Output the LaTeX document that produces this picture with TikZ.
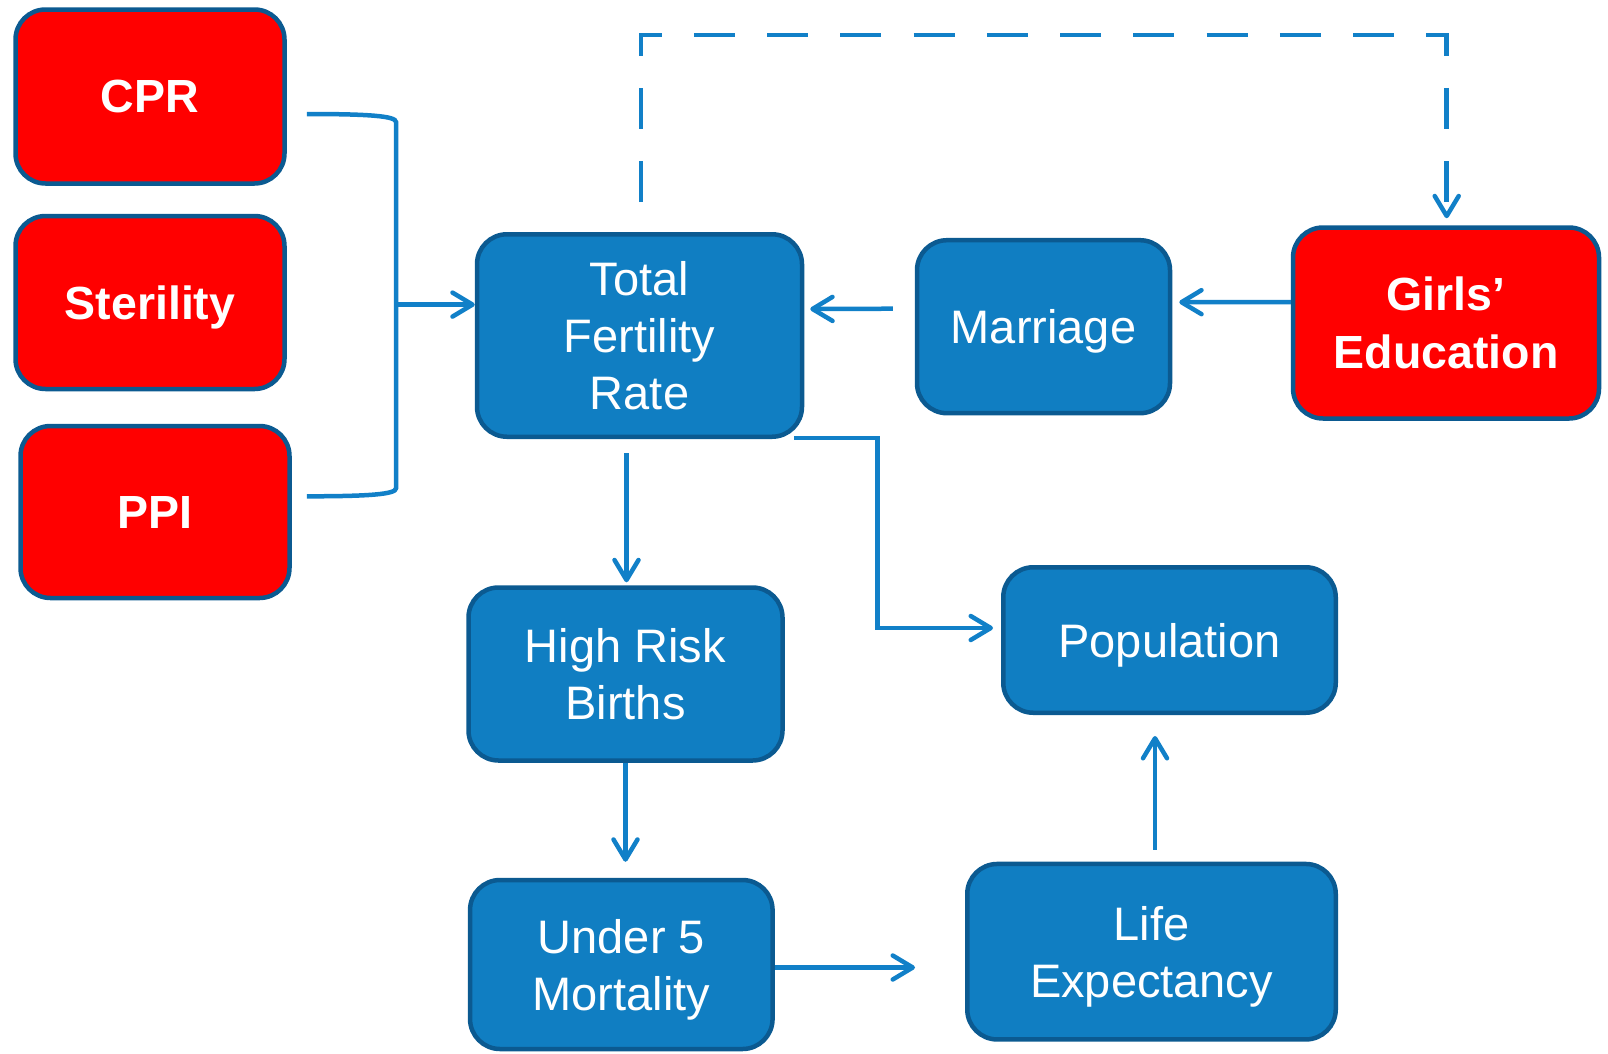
\documentclass[tikz,border=0pt]{standalone}
\usepackage{fontspec}
\setmainfont{Liberation Sans}
\usetikzlibrary{arrows.meta,calc}
\definecolor{boxblue}{RGB}{16,126,194}
\definecolor{edgeblue}{RGB}{11,90,145}
\definecolor{linkblue}{RGB}{17,128,200}
\definecolor{boxred}{RGB}{255,0,0}
\begin{document}
\begin{tikzpicture}[x=1pt,y=-1pt,
  box/.style={draw=edgeblue, line width=4.5pt, rounded corners=30pt, text=white,
    align=center, inner sep=0pt, text depth=0pt, font=\fontsize{47}{57}\selectfont},
  bluebox/.style={box, fill=boxblue},
  redbox/.style={box, fill=boxred, font=\fontsize{46.5}{58}\selectfont\bfseries},
  link/.style={draw=linkblue, line width=4.5pt},
  arr/.style={link, -{Straight Barb[length=20pt,width=24pt,round]}},
]
\useasboundingbox (0,0) rectangle (1608,1053);

% nodes
\node[redbox, minimum width=269pt, minimum height=174pt] (cpr) at (150,96.5) {CPR};
\node[redbox, minimum width=269pt, minimum height=173pt] (ster) at (150,302.5) {Sterility};
\node[redbox, minimum width=269pt, minimum height=172pt] (ppi) at (155,512) {PPI};
\node[bluebox, minimum width=325pt, minimum height=202.5pt] (tfr) at (639.5,335.5) {Total\\Fertility\\Rate};
\node[bluebox, minimum width=253pt, minimum height=173pt] (mar) at (1043.5,326.7) {Marriage};
\node[redbox, minimum width=306pt, minimum height=191pt] (girls) at (1446,323) {Girls’\\Education};
\node[bluebox, minimum width=314pt, minimum height=173pt] (hrb) at (625.5,674) {High Risk\\Births};
\node[bluebox, minimum width=302.5pt, minimum height=169pt] (u5m) at (621.3,964.5) {Under 5\\Mortality};
\node[bluebox, minimum width=368.5pt, minimum height=175.5pt] (le) at (1151.5,951.7) {Life\\Expectancy};
\node[bluebox, minimum width=332.5pt, minimum height=145.5pt] (pop) at (1169.5,640) {Population};

% bracket CPR / PPI -> TFR
\coordinate (bA) at ($(cpr.east)+(20,17.5)$);
\coordinate (bB) at ($(ppi.east)+(15,-15.7)$);
\coordinate (bj) at (396,304.6);
\draw[link] (bA) .. controls +(62,0) and +(0,-6) .. ($(bA -| bj)+(0,8)$)
  -- ($(bB -| bj)+(0,-8)$) .. controls +(0,6) and +(62,0) .. (bB);
\draw[arr] (bj) -- (tfr.west |- bj);

% Marriage -> TFR
\draw[arr] ($(mar.west)+(-22,-18)$) -- ($(tfr.east)+(6,-26.5)$);
% Girls -> Marriage
\draw[arr] ($(girls.west)+(0,-21)$) -- ($(mar.east)+(7,-24.5)$);

% dashed TFR -> Girls
\coordinate (d1) at ($(tfr.north)+(1.5,-8)$);
\coordinate (d2) at ($(girls.north)+(0.7,-7)$);
\coordinate (dy) at (0,35);
\draw[arr, dash pattern=on 41pt off 32.25pt, dash phase=51.25pt] (d1) -- (d1 |- dy) -| (d2);

% TFR -> HRB
\draw[arr] ($(tfr.south)+(-13,14)$) -- ($(hrb.north)+(1,-3)$);
% TFR -> Population
\coordinate (t1) at ($(tfr.south east)+(-10,-1)$);
\coordinate (t2) at ($(pop.west)+(-8,-12)$);
\draw[arr] (t1) -- ($(t1)+(83,0)$) |- (t2);
% HRB -> U5M
\draw[arr] (hrb.south) -- ($(u5m.north -| hrb.south)+(0,-16)$);
% U5M -> LE
\draw[arr] ($(u5m.east)+(0,3)$) -- ($(le.west |- u5m.east)+(-50,3)$);
% LE -> Population
\draw[arr] ($(le.north)+(3.5,-12)$) -- ($(pop.south)+(-14.5,21)$);
\end{tikzpicture}
\end{document}
